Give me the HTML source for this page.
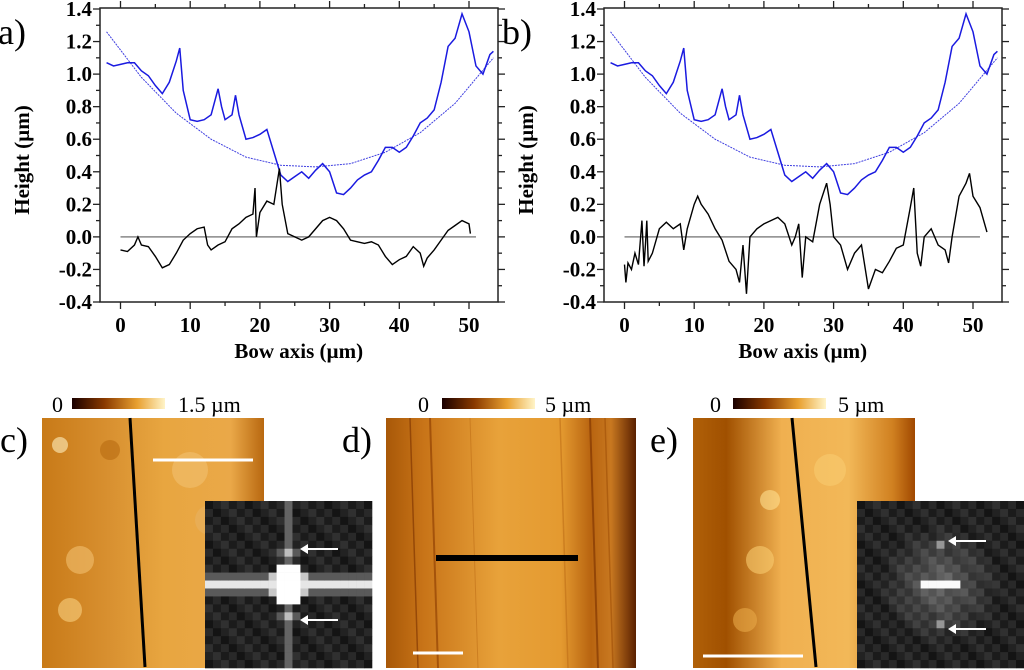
<!DOCTYPE html>
<html><head><meta charset="utf-8"><style>
html,body{margin:0;padding:0;background:#fff;width:1024px;height:670px;overflow:hidden}
svg{display:block}
text{font-family:"Liberation Serif","DejaVu Serif",serif}
</style></head><body>
<svg id="fig" width="1024" height="670" viewBox="0 0 1024 670" xmlns="http://www.w3.org/2000/svg">
<defs>
<linearGradient id="cbar" x1="0" x2="1"><stop offset="0" stop-color="#1a0000"/><stop offset="0.35" stop-color="#8a3a00"/><stop offset="0.7" stop-color="#e8a030"/><stop offset="1" stop-color="#fff4c8"/></linearGradient>
<linearGradient id="imgc" x1="0" x2="1"><stop offset="0" stop-color="#c87a18"/><stop offset="0.3" stop-color="#d89030"/><stop offset="0.55" stop-color="#e8a640"/><stop offset="0.85" stop-color="#eaa848"/><stop offset="1" stop-color="#b86810"/></linearGradient>
<linearGradient id="imgd" x1="0" x2="1"><stop offset="0" stop-color="#a85808"/><stop offset="0.15" stop-color="#c87418"/><stop offset="0.45" stop-color="#e8a23a"/><stop offset="0.7" stop-color="#e49a30"/><stop offset="0.82" stop-color="#b86410"/><stop offset="0.9" stop-color="#c87820"/><stop offset="1" stop-color="#5a2000"/></linearGradient>
<linearGradient id="imge" x1="0" x2="1"><stop offset="0" stop-color="#b06008"/><stop offset="0.15" stop-color="#a05000"/><stop offset="0.4" stop-color="#f0b050"/><stop offset="0.7" stop-color="#f2b858"/><stop offset="0.9" stop-color="#d08020"/><stop offset="1" stop-color="#a04800"/></linearGradient>
</defs>
<g id="charts"></g>
<g id="images"></g>
</svg>
<script>
const NS="http://www.w3.org/2000/svg";
// ---- chart data ----
const blueX=[-2,-1,0,1,2,3,4,5,6,7,8,8.5,9,10,11,12,13,14,14.5,15,16,16.5,17,18,19,20,21,22,23,24,25,26,27,28,29,30,31,32,33,34,35,36,37,38,39,40,41,42,43,44,45,46,47,48,49,50,51,52,53,53.5];
const blueY=[1.07,1.05,1.06,1.07,1.07,1.02,0.99,0.93,0.88,0.95,1.08,1.16,0.9,0.72,0.71,0.72,0.75,0.91,0.8,0.72,0.75,0.87,0.75,0.6,0.61,0.63,0.66,0.52,0.38,0.34,0.37,0.4,0.36,0.41,0.45,0.4,0.27,0.26,0.3,0.35,0.38,0.4,0.47,0.55,0.55,0.52,0.55,0.62,0.7,0.73,0.78,0.95,1.17,1.22,1.37,1.26,1.05,1.0,1.12,1.14];
const fitX=[-2,3,8,13,18,23,28,33,38,43,48,53.5];
const fitY=[1.26,0.98,0.76,0.6,0.49,0.44,0.43,0.45,0.52,0.64,0.82,1.1];
const resAX=[0,1,2,2.5,3,4,5,6,7,8,9,10,11,12,12.5,13,14,15,16,17,18,19,19.3,19.5,20,21,22,22.8,23.2,24,25,26,27,28,29,30,31,32,33,34,35,36,37,38,39,40,41,42,43,43.5,44,45,46,47,48,49,50,50.2];
const resAY=[-0.08,-0.09,-0.05,0,-0.05,-0.06,-0.12,-0.19,-0.17,-0.1,-0.02,0.02,0.05,0.06,-0.05,-0.08,-0.05,-0.03,0.05,0.08,0.12,0.14,0.3,0,0.15,0.22,0.2,0.42,0.2,0.02,0,-0.02,0,0.05,0.1,0.12,0.1,0.05,-0.02,-0.03,-0.04,-0.03,-0.05,-0.12,-0.17,-0.14,-0.12,-0.06,-0.1,-0.18,-0.13,-0.08,-0.02,0.04,0.07,0.1,0.08,0.02];
const resBX=[0,0.2,0.5,1,1.5,2,2.5,2.8,3,3.2,3.4,4,5,6,7,8,8.5,9,10,10.5,11,12,13,14,15,16,16.5,17,17.5,18,19,20,21,22,23,24,24.5,25,25.5,26,27,28,29,29.5,30,31,32,33,34,35,36,37,38,39,40,41,41.5,42,42.5,43,44,45,46,46.5,47,48,49,49.5,50,51,52];
const resBY=[-0.17,-0.28,-0.16,-0.2,-0.1,-0.17,0.1,-0.18,-0.05,0.1,-0.15,-0.1,0.05,0.09,0.05,0.08,-0.08,0.05,0.2,0.25,0.2,0.14,0.05,-0.02,-0.15,-0.2,-0.28,-0.05,-0.35,0,0.05,0.08,0.1,0.12,0.08,-0.05,0,0.08,-0.25,0,-0.03,0.2,0.33,0.2,0,-0.05,-0.2,-0.1,-0.05,-0.32,-0.2,-0.22,-0.15,-0.07,-0.05,0.18,0.3,-0.1,-0.18,0,0.05,-0.05,-0.08,-0.16,0,0.25,0.33,0.39,0.25,0.18,0.03];
const yTicks=[-0.4,-0.2,0.0,0.2,0.4,0.6,0.8,1.0,1.2,1.4];
const xTicks=[0,10,20,30,40,50];

const FF='"Liberation Serif", serif';
function el(tag,attrs,parent){const e=document.createElementNS(NS,tag);for(const k in attrs)e.setAttribute(k,attrs[k]);if(tag==='text')e.setAttribute('font-family',FF);parent.appendChild(e);return e;}
const charts=document.getElementById('charts');
function chart(ox,label,rx,ry,name){
  const g=el('g',{},charts);
  
  
  const L=100+ox,R=498+ox,T=8,B=302;
  const sx=v=>120.5+ox+(v-0)*(469-120.5)/50;
  const sy=v=>302-(v+0.4)*(302-9)/1.8;
  el('rect',{x:L,y:T,width:R-L,height:B-T,fill:'none',stroke:'#222','stroke-width':1.5},g);
  for(let v=-0.4;v<=1.401;v+=0.1){const y=sy(v);const maj=Math.abs(Math.round(v*10))%2===0;const len=maj?7:4;
    el('line',{x1:L,y1:y,x2:L-len,y2:y,stroke:'#222','stroke-width':1.3},g);
    el('line',{x1:R,y1:y,x2:R+len,y2:y,stroke:'#222','stroke-width':1.3},g);}
  for(let v=-0;v<=55;v+=5){const x=sx(v);if(x>R)break;const len=v%10===0?7:4;
    el('line',{x1:x,y1:B,x2:x,y2:B+len,stroke:'#222','stroke-width':1.3},g);
    el('line',{x1:x,y1:T,x2:x,y2:T-len,stroke:'#222','stroke-width':1.3},g);}
  yTicks.forEach(v=>{const t=el('text',{x:L-8,y:sy(v)+7,'text-anchor':'end','font-size':21,'font-weight':'bold'},g);t.textContent=v.toFixed(1);
    
    });
  xTicks.forEach(v=>{const t=el('text',{x:sx(v),y:B+30,'text-anchor':'middle','font-size':21,'font-weight':'bold'},g);t.textContent=v;
    
    });
  const xt=el('text',{x:sx(25)+4,y:358,'text-anchor':'middle','font-size':21,'font-weight':'bold'},g);xt.textContent='Bow axis (µm)';
  
  
  const yt=el('text',{x:0,y:0,'text-anchor':'middle','font-size':21,'font-weight':'bold',transform:`translate(${ox+29},${160}) rotate(-90)`},g);yt.textContent='Height (µm)';
  
  
  const pl=el('text',{x:ox-2,y:44,'font-size':36},g);pl.textContent=label;
  
  
  const zl=el('line',{x1:sx(0),y1:sy(0),x2:sx(51),y2:sy(0),stroke:'#888','stroke-width':1.5},g);
  
  
  const fit=el('polyline',{points:fitX.map((x,i)=>sx(x)+','+sy(fitY[i])).join(' '),fill:'none',stroke:'#4040e0','stroke-width':1,'stroke-dasharray':'2 1'},g);
  
  
  const bl=el('polyline',{points:blueX.map((x,i)=>sx(x)+','+sy(blueY[i])).join(' '),fill:'none',stroke:'#1a1ae0','stroke-width':1.5},g);
  
  
  const rl=el('polyline',{points:rx.map((x,i)=>sx(x)+','+sy(ry[i])).join(' '),fill:'none',stroke:'#000','stroke-width':1.4},g);
  
  
}
chart(0,'a)',resAX,resAY,'chart-a');
chart(504,'b)',resBX,resBY,'chart-b');

// ---- images ----
const im=document.getElementById('images');
function label(x,y,t,size,name){const e=el('text',{x:x,y:y,'font-size':size},im);e.textContent=t;
  
  }
function cbar(x0,xb,xt,t,name){label(x0,412,'0',22,name+'-zero');
  const r=el('rect',{x:xb,y:398,width:93,height:11,fill:'url(#cbar)'},im);
  
  
  label(xt,412,t,22,name+'-max');}
cbar(52,72,178,'1.5 µm','colorbar-c');
cbar(418,442,545,'5 µm','colorbar-d');
cbar(710,733,838,'5 µm','colorbar-e');
label(0,452,'c)',36,'panel-label-c');
label(342,452,'d)',36,'panel-label-d');
label(650,452,'e)',36,'panel-label-e');
function img(x,w,fill,name){const r=el('rect',{x:x,y:418,width:w,height:250,fill:fill},im);
  
  }
img(42,222,'url(#imgc)','afm-image-c');
img(386,250,'url(#imgd)','afm-image-d');
img(693,222,'url(#imge)','afm-image-e');
[[410,1.5,'#7a3000'],[430,2,'#8a3a00'],[470,1,'#c07018'],[560,1.5,'#c07018'],[590,2,'#7a3000'],[605,1.5,'#a05008']].forEach(s=>{el('line',{x1:s[0],y1:418,x2:s[0]+8,y2:668,stroke:s[2],'stroke-width':s[1],opacity:0.6},im);});
[[60,445,8,'#fff0c0'],[80,560,14,'#f2c070'],[70,610,12,'#f8d080'],[190,470,18,'#f2c070'],[210,520,15,'#e8b060'],[110,450,10,'#b86a10']].forEach(b=>el('circle',{cx:b[0],cy:b[1],r:b[2],fill:b[3],opacity:0.6},im));
[[770,500,10,'#ffe090'],[760,560,14,'#f8cc70'],[830,470,16,'#f8cc70'],[745,620,12,'#e8a848']].forEach(b=>el('circle',{cx:b[0],cy:b[1],r:b[2],fill:b[3],opacity:0.6},im));
function bar(x1,y1,x2,y2,c,w,name){const l=el('line',{x1:x1,y1:y1,x2:x2,y2:y2,stroke:c,'stroke-width':w},im);
  
  }
bar(130,418,145,667,'#000',3,'profile-line-c');
bar(153,460,253,460,'#fff',3,'scale-bar-c');
bar(436,558,578,558,'#000',6,'profile-line-d');
bar(413,653,463,653,'#fff',3,'scale-bar-d');
bar(792,418,816,667,'#000',3,'profile-line-e');
bar(703,656,803,656,'#fff',3,'scale-bar-e');
// FFT insets (i = column, j = row)
function fft(x0,name,cross){const g=el('g',{},im);
  
  
  el('rect',{x:x0,y:501,width:167,height:167,fill:'#141414'},g);
  const n=21,cs=167/n;
  for(let i=0;i<n;i++)for(let j=0;j<n;j++){
    const di=i-10,dj=j-10;let v=20+((i*7+j*13)%5)*7;
    if(cross){
      if(di===0)v=Math.max(v,100);
      if(dj===0)v=230;
      if(Math.abs(dj)===1)v=Math.max(v,Math.abs(di)<=2?200:90);
      if(Math.abs(di)<=1&&Math.abs(dj)<=2)v=255;
      if(di===0&&Math.abs(dj)===4)v=190;
      if(Math.abs(di)===1&&Math.abs(dj)===4)v=90;
    } else {
      const r=Math.sqrt(di*di+dj*dj);v+=Math.max(0,70-r*9);
      if(dj===0&&Math.abs(di)<=2)v=250;
      if(di===0&&Math.abs(dj)===5)v=150;
    }
    const c=Math.min(255,v)|0;
    el('rect',{x:x0+i*cs,y:501+j*cs,width:cs+0.3,height:cs+0.3,fill:`rgb(${c},${c},${c})`},g);}
  const ys=cross?[549,620]:[541,629];const ax=cross?302:950;
  ys.forEach(y=>{el('line',{x1:ax,y1:y,x2:ax+36,y2:y,stroke:'#fff','stroke-width':2},g);
    el('path',{d:`M${ax-2} ${y} l8 -5 v10 z`,fill:'#fff'},g);});}
fft(205,'fft-inset-c',true);
fft(857,'fft-inset-e',false);
</script>
</body></html>
